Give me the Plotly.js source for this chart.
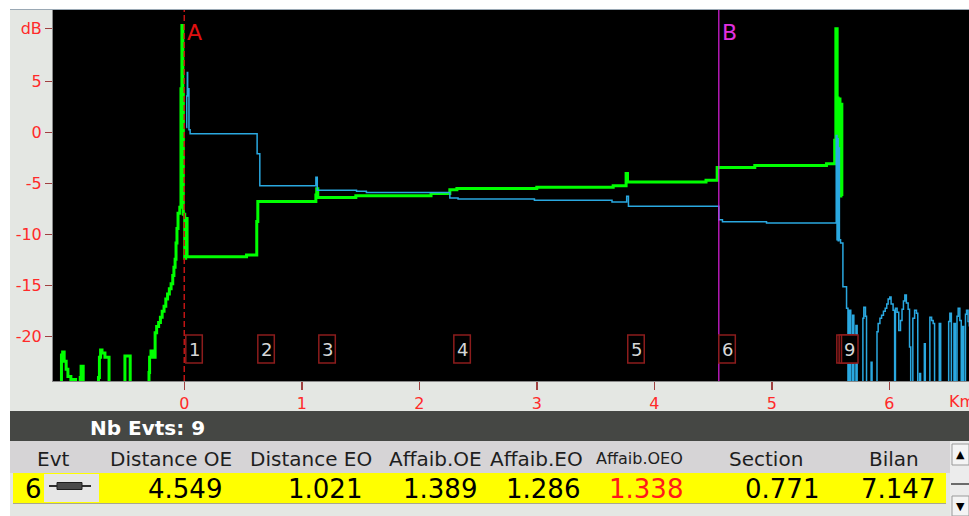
<!DOCTYPE html>
<html><head><meta charset="utf-8">
<script src="https://cdn.plot.ly/plotly-3.0.1.min.js"></script>
<style>html,body{margin:0;padding:0;background:#fff;overflow:hidden}#chart{width:969px;height:516px}</style>
</head><body><div id="chart"></div>
<script>
// ---------- DATA ----------
// OE trace (green): distance (km) / level (dB)
const oeDist = [-1.117,-1.045,-1.035,-1.022,-1.005,-0.99,-0.965,-0.94,-0.925,-0.885,-0.878,-0.86,
  -0.73,-0.722,-0.712,-0.70,-0.675,-0.64,-0.505,-0.46,
  -0.30,-0.295,-0.283,-0.262,-0.248,-0.235,-0.218,-0.203,-0.188,-0.172,-0.157,-0.142,-0.127,-0.112,-0.098,-0.088,-0.078,-0.07,-0.062,-0.053,-0.038,-0.028,-0.02,-0.012,-0.008,0.004,0.012,0.024,
  0.53,0.617,0.626,1.12,1.127,1.136,1.46,2.10,2.26,2.32,3.0,3.65,3.76,3.772,4.44,4.535,4.855,5.465,5.535,5.545,5.556,5.564,5.572,5.58,5.588,5.596,5.60];
const oeLoss = [-25,-21.8,-21.5,-22.4,-23.2,-23.9,-25,-24.2,-25,-24.0,-22.9,-25,
  -24.0,-22.0,-21.3,-21.6,-22.0,-25,-21.9,-25,
  -23.5,-22.0,-21.4,-22.0,-19.6,-19.0,-18.6,-18.1,-17.5,-17.0,-16.3,-15.8,-15.3,-14.8,-14.0,-13.2,-12.4,-10.8,-9.4,-7.9,-7.3,4.3,10.5,4.0,-8.0,-12.3,-8.4,-12.15,
  -12.0,-8.7,-6.75,-6.1,-5.5,-6.34,-6.17,-5.97,-5.58,-5.48,-5.35,-5.19,-4.0,-4.82,-4.66,-3.42,-3.22,-3.05,-0.75,10.2,3.4,-2.0,3.3,-6.2,2.8,-6.2,-6.2];

// EO trace (blue): distance (km) / level (dB)
const eoDist = [0.017,0.021,0.026,0.029,0.035,0.04,0.05,0.62,0.643,1.12,1.132,1.466,1.55,2.26,2.33,2.98,3.64,3.765,3.78,4.549,4.58,4.955,
  5.548,5.555,5.56,5.565,5.57,5.575,5.585,5.605,5.636,
  5.648,5.660,5.672,5.688,5.698,5.716,5.726,5.775,5.783,5.797,5.806,5.845,5.853,
  5.895,5.905,5.92,5.934,5.95,5.965,5.978,5.99,6.004,6.015,6.032,6.045,
  6.052,6.066,6.08,6.095,6.108,6.12,6.132,6.145,6.16,6.172,6.182,
  6.2,6.215,6.231,6.242,6.258,6.266,6.298,6.306,6.345,6.36,6.373,6.385,6.425,6.437,
  6.505,6.515,6.528,6.55,6.562,6.576,6.586,6.60,6.612,6.622,6.632,6.648,6.657,6.67,6.68];
const eoLoss = [0.5,3.6,5.9,3.6,4.3,0.3,-0.1,-2.07,-5.2,-4.37,-5.65,-5.74,-5.85,-6.4,-6.5,-6.63,-6.8,-6.24,-7.22,-8.53,-8.73,-8.86,
  -0.27,-10.5,-0.6,-10.6,-1.5,-10.5,-10.8,-15.1,-17.2,
  -25,-17.4,-25,-17.9,-25,-18.9,-25,-18.2,-17.1,-18.0,-25,-22.5,-25,
  -19.5,-18.7,-18.2,-17.9,-17.5,-17.2,-16.8,-16.3,-16.1,-16.8,-17.4,-25,
  -17.2,-17.6,-19.4,-18.4,-17.3,-16.5,-15.9,-16.7,-17.3,-21.0,-25,
  -18.2,-17.4,-17.7,-25,-23.6,-25,-20.7,-25,-18.1,-18.4,-18.7,-25,-18.7,-25,
  -18.5,-17.7,-25,-18.7,-25,-18.0,-17.2,-18.4,-25,-19.0,-25,-17.8,-17.4,-18.5,-19.0];

// Events (7 and 8 sit hidden behind the box of 9)
const eventIds  = ['1','2','3','4','5','6','7','8','9'];
const eventDist = [0.013,0.626,1.145,2.294,3.774,4.549,5.553,5.573,5.593];
const hiddenEventIds = ['7','8'];
const markerA = 0.0;
const markerB = 4.549;

// Axes ticks
const xTickVals = [0,1,2,3,4,5,6];
const xTickText = ['0','1','2','3','4','5','6'];
const yTickVals = [-20,-15,-10,-5,0,5,10.24];
const yTickText = ['-20','-15','-10','-5','0','5','dB'];

// Table
const nbEvts = 9;
const colHeaders = ['Evt','Distance OE','Distance EO','Affaib.OE','Affaib.EO','Affaib.OEO','Section','Bilan'];
const selEvt = '6';
const rowValues = ['4.549','1.021','1.389','1.286','1.338','0.771','7.147'];

// ---------- LAYOUT HELPERS (pixel -> paper) ----------
const L = 53, R = 969, T = 10, B = 381;
const PX = p => (p - L) / (R - L);
const PY = p => (B - p) / (B - T);

const shapes = [];
const ann = [];
function rect(x0,y0,x1,y1,fill,line,lw){
  shapes.push({type:'rect',xref:'paper',yref:'paper',x0:PX(x0),x1:PX(x1),y0:PY(y1),y1:PY(y0),
    fillcolor:fill,line:{color:line||fill,width:lw===undefined?0:lw},layer:'above'});
}
function hline(x0,x1,y,color,w){
  shapes.push({type:'line',xref:'paper',yref:'paper',x0:PX(x0),x1:PX(x1),y0:PY(y),y1:PY(y),line:{color:color,width:w},layer:'above'});
}
function text(x,y,t,size,color,anchor,extra){
  ann.push(Object.assign({xref:'paper',yref:'paper',x:PX(x),y:PY(y),text:t,showarrow:false,
    xanchor:anchor||'center',yanchor:'middle',font:{family:'DejaVu Sans',size:size,color:color}},extra||{}));
}

// markers A and B
shapes.push({type:'line',xref:'x',yref:'paper',x0:markerA,x1:markerA,y0:0,y1:1,line:{color:'#c01414',width:1.5,dash:'6px,3px'}});
shapes.push({type:'line',xref:'x',yref:'paper',x0:markerB,x1:markerB,y0:0,y1:1,line:{color:'#e020e0',width:1.2}});
ann.push({xref:'x',yref:'paper',x:markerA,xshift:1,y:PY(32),text:'A',showarrow:false,xanchor:'left',yanchor:'middle',font:{size:22,color:'#e01010'}});
ann.push({xref:'x',yref:'paper',x:markerB,xshift:1,y:PY(32),text:'B',showarrow:false,xanchor:'left',yanchor:'middle',font:{size:22,color:'#e030e0'}});

// event boxes (shapes, pixel-sized, anchored at event distance) + labels
eventIds.forEach((id,i)=>{
  shapes.push({type:'rect',xref:'x',yref:'paper',xsizemode:'pixel',xanchor:eventDist[i],x0:0,x1:16.5,
    y0:PY(363),y1:PY(335),fillcolor:'#000000',line:{color:'#8c1c1c',width:1.5},layer:'above'});
  if (hiddenEventIds.indexOf(id) < 0) {
    ann.push({xref:'x',yref:'paper',x:eventDist[i],xshift:8.3,y:PY(349.5),text:id,showarrow:false,xanchor:'center',yanchor:'middle',
      font:{size:18,color:'#d6d6d6'}});
  }
});

// Km unit label
text(947,401.7,'Km',16,'#ff2a2a','left');

// frame strips
rect(0,0,969,9.5,'#ffffff');
rect(0,0,10,516,'#ffffff');
hline(10,969,9.5,'#9aa8b4',1);

// table
rect(10,411,969,441,'#454744');
text(88,428,'<b>Nb Evts: '+nbEvts+'</b>',20,'#ffffff','left');
rect(10,441,950,473,'#d6d4d6');
rect(13,473,946,503,'#ffff00');
hline(13,946,503.5,'#a8a890',1);
const headerX = [53,171,311,435,536,639,766,894];
colHeaders.forEach((h,i)=>{ text(headerX[i],459,h,h==='Affaib.OEO'?16:20,'#1e1e1e','center'); });
text(33,488.5,selEvt,26,'#000000','center');
rect(44,474,99,502,'#e6e6e6');
hline(49,91,486,'#303030',2);
rect(57,482.5,82,489.5,'#4a4a4a','#1e1e1e',1);
const valueX = [185,325,440,543,646,782,898];
rowValues.forEach((v,i)=>{ text(valueX[i],488.5,v,26,i===4?'#ff1a1a':'#000000','center'); });
// scrollbar
rect(950,441,969,516,'#ececec');
rect(952,444,969,465,'#f4f4f4','#9a9a9a',1);
text(960.5,454,'▲',11,'#000000','center');
hline(951,969,484,'#404040',1.5);
rect(952,496,969,516,'#f4f4f4','#9a9a9a',1);
text(960.5,506,'▼',11,'#000000','center');

const traces = [
  {x:oeDist,y:oeLoss,type:'scatter',mode:'lines',line:{color:'#00ff00',width:3,shape:'hv'},hoverinfo:'skip'},
  {x:eoDist,y:eoLoss,type:'scatter',mode:'lines',line:{color:'#2aa8e0',width:1.5,shape:'hv'},hoverinfo:'skip'}
];

const layout = {
  width:969,height:516,
  margin:{l:L,r:969-R,t:T,b:516-B,pad:0},
  paper_bgcolor:'#e4e7e3',plot_bgcolor:'#000000',
  showlegend:false,
  font:{family:'DejaVu Sans',size:16,color:'#ff2a2a'},
  xaxis:{range:[-1.117,6.678],tickvals:xTickVals,ticktext:xTickText,ticks:'outside',ticklen:8,tickwidth:1.5,tickcolor:'#a04040',
    tickfont:{size:16,color:'#ff2a2a'},showgrid:false,zeroline:false,showline:true,linecolor:'#8a8a8a',linewidth:1,fixedrange:true},
  yaxis:{range:[-24.34,12.03],tickvals:yTickVals,ticktext:yTickText,ticks:'outside',ticklen:7,tickwidth:1.5,tickcolor:'#a04040',
    tickfont:{size:16,color:'#ff2a2a'},showgrid:false,zeroline:false,showline:true,linecolor:'#8a8a8a',linewidth:1,fixedrange:true},
  shapes:shapes,
  annotations:ann
};
Plotly.newPlot('chart',traces,layout,{displayModeBar:false,staticPlot:true});
</script>
</body></html>
